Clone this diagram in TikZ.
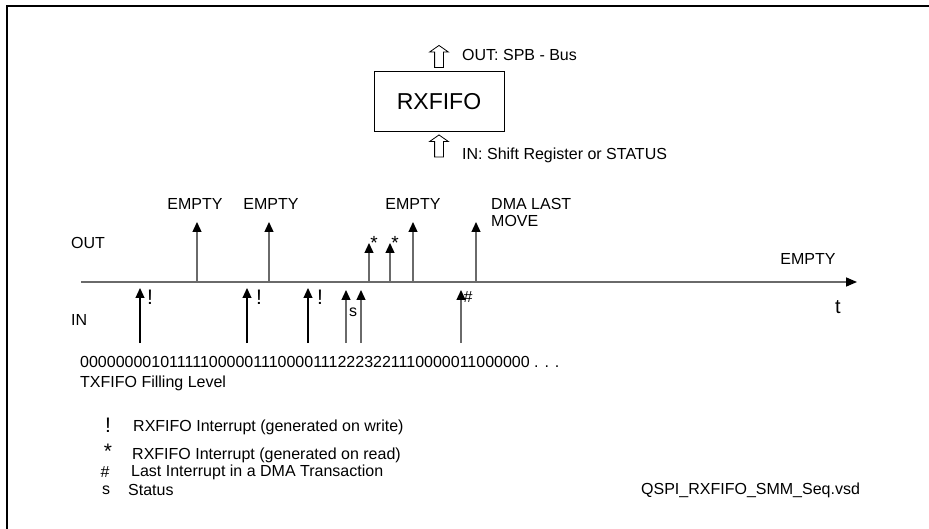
\documentclass[tikz,border=0pt]{standalone}
\usepackage{fontspec}
\setmainfont{Liberation Sans}
\usepackage{tikz}
\usetikzlibrary{arrows.meta,positioning,shapes.arrows}
\definecolor{axisgray}{HTML}{6A6A6A}
\tikzset{
  txt/.style={inner sep=0pt, font=\fontsize{16}{17}\selectfont},
  marktxt/.style={inner sep=0pt, font=\fontsize{21}{21}\selectfont},
  fifobox/.style={draw, line width=1pt, minimum width=130pt, minimum height=60pt,
    font=\fontsize{23}{23}\selectfont},
  busarrow/.style={single arrow, draw, line width=0.8pt, shape border rotate=90,
    inner sep=4pt, minimum height=22pt, single arrow head extend=5pt,
    single arrow tip angle=110},
  timeaxis/.style={line width=1.6pt, draw=axisgray,
    -{Triangle[length=11pt, width=9pt, color=black]}},
  evarr/.style={line width=1.3pt, draw=axisgray,
    -{Triangle[length=10pt, width=9pt, color=black]}},
  inarr/.style={evarr, line width=1.1pt, draw=black},
  borderline/.style={line width=1.6pt}
}

\begin{document}
\begin{tikzpicture}[x=1pt, y=-1pt]
    \useasboundingbox (0,0) rectangle (929,529);
    \draw[borderline] (7,529) -- (7,6) -- (929,6);
    % RXFIFO block
    \node[fifobox] (fifo) at (439,102) {RXFIFO};
    \node[busarrow] (busout) at (439,58) {};
    \node[busarrow] (busin) at (439,147.5) {};
    \node[txt, anchor=west] (outlbl) at (462,55) {OUT: SPB - Bus};
    \node[txt, anchor=west] (inlbl) at (462,155) {IN: Shift Register or STATUS};
    % time axis
    \coordinate (tstart) at (81,282);
    \coordinate (tend) at (857,282);
    \draw[timeaxis] (tstart) -- (tend);
    \node[marktxt, font=\fontsize{20}{20}\selectfont] (tlbl) at (838,307) {t};
    \node[txt, anchor=west] (outside) at (71,243) {OUT};
    \node[txt, anchor=west] (inside) at (71,320) {IN};
    \node[txt] (emptyend) at (808,259) {EMPTY};
    % OUT events
    \coordinate (o1) at (197,282); \coordinate (o1t) at (197,222);
    \coordinate (o2) at (269,282); \coordinate (o2t) at (269,222);
    \coordinate (o3) at (369,282); \coordinate (o3t) at (369,243);
    \coordinate (o4) at (390,282); \coordinate (o4t) at (390,243);
    \coordinate (o5) at (413,282); \coordinate (o5t) at (413,222);
    \coordinate (o6) at (476,282); \coordinate (o6t) at (476,222);
    \draw[evarr] (o1) -- (o1t);
    \draw[evarr] (o2) -- (o2t);
    \draw[evarr] (o3) -- (o3t);
    \draw[evarr] (o4) -- (o4t);
    \draw[evarr] (o5) -- (o5t);
    \draw[evarr] (o6) -- (o6t);
    \node[txt] (empty1) at (195,204) {EMPTY};
    \node[txt] (empty2) at (271,204) {EMPTY};
    \node[txt] (empty3) at (413,204) {EMPTY};
    \node[marktxt, font=\fontsize{19}{19}\selectfont] (rd1) at (374,243) {*};
    \node[marktxt, font=\fontsize{19}{19}\selectfont] (rd2) at (395,243) {*};
    \node[txt, anchor=west, align=left] (dmamove) at (491,212.5) {DMA LAST\\MOVE};
    % IN events
    \coordinate (i1) at (140,343); \coordinate (i1t) at (140,288);
    \coordinate (i2) at (247,343); \coordinate (i2t) at (247,288);
    \coordinate (i3) at (308,343); \coordinate (i3t) at (308,288);
    \coordinate (i4) at (346,343); \coordinate (i4t) at (346,290);
    \coordinate (i5) at (361,343); \coordinate (i5t) at (361,290);
    \coordinate (i6) at (461,343); \coordinate (i6t) at (461,290);
    \draw[inarr] (i1) -- (i1t);
    \draw[inarr] (i2) -- (i2t);
    \draw[inarr] (i3) -- (i3t);
    \draw[evarr] (i4) -- (i4t);
    \draw[evarr] (i5) -- (i5t);
    \draw[evarr] (i6) -- (i6t);
    \node[marktxt] (wr1) at (150,297) {!};
    \node[marktxt] (wr2) at (259,297) {!};
    \node[marktxt] (wr3) at (320,297) {!};
    \node[txt] (st1) at (353,312) {s};
    \node[txt] (lastdma) at (468,297) {\#};
    % filling level
    \node[txt, anchor=west] (level) at (80,362)
      {0000000010111110000011100001112223221110000011000000 . . .};
    \node[txt, anchor=west] (levellbl) at (80,383) {TXFIFO Filling Level};
    % legend
    \node[marktxt] (keywr) at (108,425) {!};
    \node[marktxt] (keyrd) at (108,451) {*};
    \node[txt] (keyhash) at (105,472) {\#};
    \node[txt] (keys) at (106,490) {s};
    \node[txt, anchor=west] (keywrtxt) at (133,427) {RXFIFO Interrupt (generated on write)};
    \node[txt, anchor=west] (keyrdtxt) at (132,455) {RXFIFO Interrupt (generated on read)};
    \node[txt, anchor=west] (keyhashtxt) at (131,472) {Last Interrupt in a DMA Transaction};
    \node[txt, anchor=west] (keystxt) at (128,490) {Status};
    \node[txt, anchor=west] (filename) at (641,490) {QSPI\_RXFIFO\_SMM\_Seq.vsd};
  \end{tikzpicture}
\end{document}
